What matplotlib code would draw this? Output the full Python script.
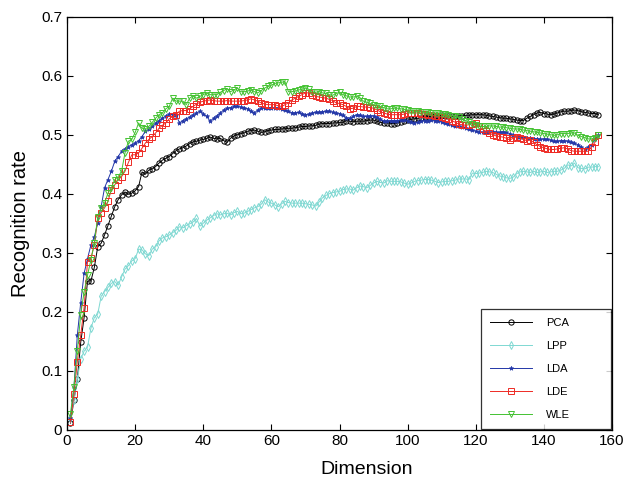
import matplotlib
matplotlib.use("Agg")
import matplotlib.pyplot as plt
import numpy as np

plt.rcParams['font.family'] = ['Liberation Sans', 'DejaVu Sans']

dims = list(range(1, 157))

pca = [0.011, 0.050, 0.085, 0.148, 0.190, 0.252, 0.252, 0.275, 0.310, 0.316,
       0.330, 0.346, 0.362, 0.378, 0.390, 0.398, 0.403, 0.399, 0.401, 0.405,
       0.412, 0.437, 0.433, 0.440, 0.442, 0.446, 0.452, 0.457, 0.460, 0.463,
       0.468, 0.473, 0.476, 0.478, 0.481, 0.485, 0.488, 0.489, 0.491, 0.492,
       0.494, 0.496, 0.494, 0.493, 0.494, 0.490, 0.487, 0.494, 0.498, 0.500,
       0.502, 0.503, 0.506, 0.507, 0.508, 0.506, 0.504, 0.505, 0.507, 0.508,
       0.509, 0.509, 0.510, 0.510, 0.511, 0.511, 0.512, 0.513, 0.514, 0.514,
       0.515, 0.515, 0.516, 0.518, 0.519, 0.519, 0.519, 0.520, 0.520, 0.521,
       0.521, 0.524, 0.523, 0.522, 0.523, 0.523, 0.523, 0.524, 0.525, 0.525,
       0.523, 0.521, 0.520, 0.520, 0.519, 0.519, 0.520, 0.522, 0.524, 0.525,
       0.526, 0.527, 0.528, 0.529, 0.530, 0.531, 0.531, 0.532, 0.532, 0.533,
       0.532, 0.532, 0.531, 0.531, 0.532, 0.532, 0.533, 0.533, 0.534, 0.534,
       0.534, 0.534, 0.533, 0.532, 0.531, 0.530, 0.529, 0.528, 0.528, 0.527,
       0.526, 0.525, 0.524, 0.524, 0.528, 0.531, 0.534, 0.537, 0.538, 0.536,
       0.535, 0.534, 0.535, 0.537, 0.539, 0.540, 0.540, 0.541, 0.542, 0.541,
       0.539, 0.538, 0.537, 0.536, 0.536, 0.534]

lpp = [0.020, 0.050, 0.085, 0.120, 0.133, 0.140, 0.172, 0.190, 0.196, 0.226,
       0.234, 0.241, 0.248, 0.251, 0.245, 0.259, 0.272, 0.278, 0.286, 0.290,
       0.306, 0.305, 0.298, 0.295, 0.306, 0.310, 0.320, 0.325, 0.327, 0.330,
       0.334, 0.338, 0.344, 0.342, 0.346, 0.349, 0.352, 0.358, 0.345, 0.350,
       0.355, 0.359, 0.363, 0.366, 0.364, 0.366, 0.367, 0.364, 0.368, 0.370,
       0.366, 0.367, 0.370, 0.373, 0.376, 0.378, 0.382, 0.390, 0.386, 0.384,
       0.381, 0.378, 0.383, 0.387, 0.385, 0.384, 0.384, 0.384, 0.384, 0.383,
       0.382, 0.381, 0.379, 0.386, 0.393, 0.397, 0.400, 0.402, 0.403, 0.404,
       0.407, 0.408, 0.408, 0.406, 0.410, 0.413, 0.412, 0.410, 0.414, 0.418,
       0.421, 0.419, 0.418, 0.422, 0.421, 0.421, 0.421, 0.420, 0.418, 0.416,
       0.418, 0.421, 0.422, 0.423, 0.424, 0.424, 0.423, 0.421, 0.419, 0.420,
       0.421, 0.421, 0.422, 0.423, 0.425, 0.425, 0.425, 0.424, 0.435, 0.434,
       0.435, 0.436, 0.438, 0.437, 0.436, 0.433, 0.430, 0.429, 0.427, 0.426,
       0.428, 0.434, 0.437, 0.438, 0.437, 0.436, 0.438, 0.436, 0.437, 0.438,
       0.436, 0.437, 0.438, 0.438, 0.440, 0.443, 0.449, 0.447, 0.452, 0.444,
       0.443, 0.442, 0.445, 0.445, 0.446, 0.446]

lda = [0.020, 0.070, 0.160, 0.215, 0.265, 0.290, 0.313, 0.327, 0.350, 0.378,
       0.410, 0.424, 0.438, 0.455, 0.463, 0.472, 0.476, 0.480, 0.483, 0.486,
       0.490, 0.497, 0.506, 0.509, 0.514, 0.520, 0.524, 0.528, 0.532, 0.535,
       0.534, 0.534, 0.520, 0.524, 0.527, 0.530, 0.534, 0.537, 0.540, 0.536,
       0.531, 0.523, 0.528, 0.532, 0.537, 0.542, 0.545, 0.546, 0.548, 0.548,
       0.547, 0.546, 0.544, 0.540, 0.537, 0.542, 0.545, 0.545, 0.545, 0.546,
       0.545, 0.545, 0.544, 0.542, 0.540, 0.537, 0.537, 0.538, 0.536, 0.534,
       0.535, 0.537, 0.538, 0.538, 0.539, 0.540, 0.540, 0.538, 0.537, 0.536,
       0.533, 0.529, 0.528, 0.531, 0.534, 0.533, 0.531, 0.531, 0.532, 0.532,
       0.530, 0.526, 0.523, 0.523, 0.524, 0.524, 0.524, 0.525, 0.525, 0.524,
       0.522, 0.520, 0.521, 0.523, 0.524, 0.524, 0.525, 0.524, 0.524, 0.522,
       0.520, 0.518, 0.516, 0.515, 0.514, 0.513, 0.512, 0.510, 0.508, 0.506,
       0.505, 0.504, 0.504, 0.504, 0.505, 0.504, 0.504, 0.505, 0.504, 0.502,
       0.499, 0.497, 0.496, 0.497, 0.495, 0.494, 0.493, 0.493, 0.492, 0.493,
       0.492, 0.491, 0.489, 0.489, 0.490, 0.490, 0.489, 0.488, 0.486, 0.483,
       0.479, 0.476, 0.479, 0.483, 0.492, 0.499]

lde = [0.013, 0.060, 0.115, 0.160, 0.207, 0.285, 0.291, 0.313, 0.359, 0.368,
       0.376, 0.387, 0.407, 0.415, 0.424, 0.429, 0.438, 0.453, 0.466, 0.466,
       0.469, 0.477, 0.486, 0.492, 0.497, 0.503, 0.511, 0.516, 0.520, 0.527,
       0.531, 0.534, 0.540, 0.541, 0.541, 0.544, 0.548, 0.552, 0.555, 0.557,
       0.558, 0.559, 0.558, 0.557, 0.557, 0.557, 0.558, 0.557, 0.557, 0.557,
       0.557, 0.558, 0.559, 0.561, 0.559, 0.557, 0.554, 0.552, 0.551, 0.551,
       0.551, 0.549, 0.548, 0.551, 0.554, 0.559, 0.562, 0.565, 0.568, 0.571,
       0.571, 0.568, 0.565, 0.564, 0.563, 0.562, 0.560, 0.558, 0.554, 0.553,
       0.551, 0.548, 0.544, 0.545, 0.548, 0.548, 0.547, 0.547, 0.546, 0.545,
       0.542, 0.539, 0.537, 0.535, 0.534, 0.534, 0.534, 0.534, 0.535, 0.537,
       0.537, 0.537, 0.537, 0.536, 0.535, 0.534, 0.533, 0.532, 0.531, 0.530,
       0.529, 0.527, 0.524, 0.521, 0.518, 0.517, 0.516, 0.517, 0.519, 0.520,
       0.515, 0.509, 0.506, 0.503, 0.500, 0.498, 0.497, 0.496, 0.494, 0.491,
       0.494, 0.497, 0.495, 0.492, 0.490, 0.491, 0.487, 0.483, 0.480, 0.478,
       0.476, 0.475, 0.475, 0.476, 0.477, 0.478, 0.476, 0.473, 0.472, 0.472,
       0.472, 0.472, 0.472, 0.479, 0.487, 0.499]

wle = [0.027, 0.073, 0.133, 0.195, 0.234, 0.262, 0.288, 0.316, 0.361, 0.376,
       0.384, 0.401, 0.410, 0.424, 0.429, 0.438, 0.469, 0.489, 0.492, 0.504,
       0.520, 0.511, 0.510, 0.514, 0.521, 0.528, 0.534, 0.537, 0.544, 0.548,
       0.562, 0.557, 0.557, 0.557, 0.551, 0.562, 0.566, 0.562, 0.565, 0.568,
       0.571, 0.568, 0.568, 0.568, 0.572, 0.575, 0.578, 0.573, 0.576, 0.579,
       0.573, 0.573, 0.574, 0.576, 0.573, 0.571, 0.575, 0.579, 0.582, 0.584,
       0.587, 0.588, 0.589, 0.590, 0.573, 0.573, 0.574, 0.576, 0.577, 0.579,
       0.577, 0.573, 0.572, 0.573, 0.571, 0.570, 0.568, 0.567, 0.570, 0.572,
       0.568, 0.566, 0.564, 0.564, 0.565, 0.563, 0.557, 0.555, 0.553, 0.551,
       0.549, 0.548, 0.546, 0.544, 0.544, 0.545, 0.545, 0.544, 0.543, 0.542,
       0.541, 0.540, 0.540, 0.539, 0.538, 0.538, 0.537, 0.537, 0.537, 0.536,
       0.535, 0.533, 0.532, 0.531, 0.530, 0.527, 0.524, 0.521, 0.519, 0.517,
       0.515, 0.514, 0.514, 0.515, 0.515, 0.514, 0.513, 0.513, 0.512, 0.511,
       0.510, 0.510, 0.509, 0.508, 0.507, 0.506, 0.505, 0.504, 0.503, 0.502,
       0.501, 0.500, 0.499, 0.500, 0.502, 0.502, 0.502, 0.503, 0.503, 0.499,
       0.497, 0.495, 0.493, 0.493, 0.495, 0.500]

series = [
    ("PCA", pca, "black", "o", 3.8),
    ("LPP", lpp, "#7fd8d2", "d", 4.0),
    ("LDA", lda, "#2337a8", "*", 3.2),
    ("LDE", lde, "#ee2a24", "s", 3.8),
    ("WLE", wle, "#44c232", "v", 4.4),
]

fig = plt.figure(figsize=(6.27, 4.8), dpi=100)
ax = fig.add_axes([0.107, 0.105, 0.869, 0.860])

for name, vals, col, mk, ms in series:
    if mk == "*":
        ax.plot(dims, vals, color=col, marker=mk, markersize=ms, linewidth=0.7,
                markerfacecolor=col, markeredgewidth=0.5, label=name)
    else:
        ax.plot(dims, vals, color=col, marker=mk, markersize=ms, linewidth=0.7,
                markerfacecolor="none", markeredgewidth=0.7, label=name)

ax.set_xlim(0, 160)
ax.set_ylim(0, 0.7)
ax.set_xticks(np.arange(0, 161, 20))
ax.set_yticks(np.arange(0, 0.71, 0.1))
ax.set_yticklabels(["0", "0.1", "0.2", "0.3", "0.4", "0.5", "0.6", "0.7"])
ax.tick_params(direction="in", top=True, right=True, labelsize=11, length=4, width=0.8)
for s in ax.spines.values():
    s.set_linewidth(0.9)

ax.set_xlabel("Dimension", fontsize=14)
ax.xaxis.set_label_coords(0.55, -0.075)
ax.set_ylabel("Recognition rate", fontsize=14.5, labelpad=8)

leg = ax.legend(loc="lower left", bbox_to_anchor=(0.76, 0.002, 0.238, 0.28),
                mode="expand", fontsize=8, frameon=True, fancybox=False,
                edgecolor="black", handlelength=3.8, handletextpad=1.2,
                labelspacing=1.17, borderpad=0.8, borderaxespad=0.0,
                markerscale=1.0)
leg.get_frame().set_linewidth(0.9)

fig.savefig("out.png", dpi=100)
